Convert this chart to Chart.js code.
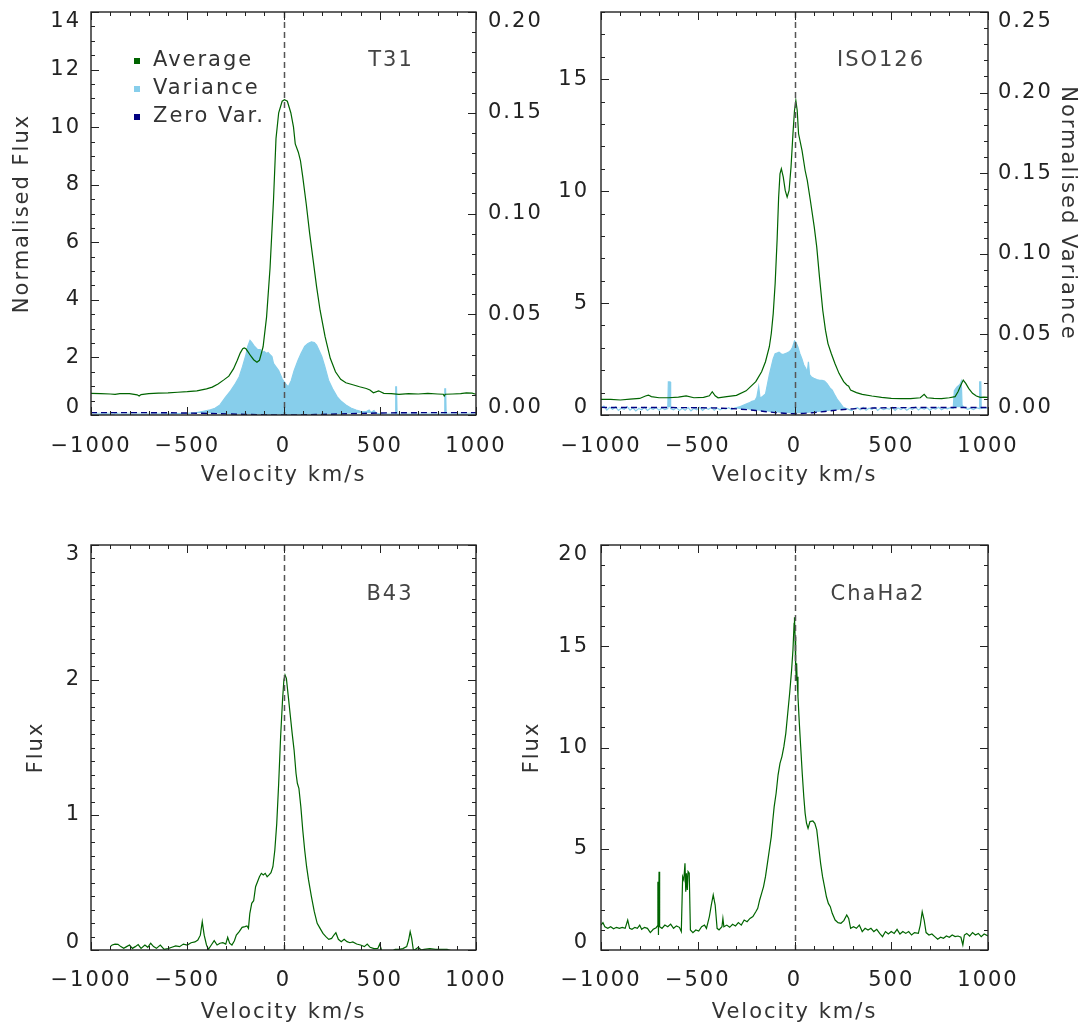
<!DOCTYPE html>
<html>
<head>
<meta charset="utf-8">
<script src="https://cdn.jsdelivr.net/npm/chart.js@4.4.0/dist/chart.umd.min.js"></script>
<style>
html, body { margin: 0; padding: 0; background: #fff; }
#wrap { position: relative; width: 1090px; height: 1028px; background: #fff; overflow: hidden; }
canvas { position: absolute; }
</style>
</head>
<body>
<div id="wrap">
  <canvas id="c1" width="545" height="500" style="left:0px;top:0px"></canvas>
  <canvas id="c2" width="590" height="500" style="left:500px;top:0px"></canvas>
  <canvas id="c3" width="545" height="498" style="left:0px;top:530px"></canvas>
  <canvas id="c4" width="590" height="498" style="left:500px;top:530px"></canvas>
</div>
<script>
// ---- T31 ----
var t31Vel = [-1000,-950,-900,-875,-850,-800,-760,-750,-740,-700,
  -650,-600,-550,-500,-450,-400,-370,-340,-310,-284,
  -260,-240,-225,-212,-204,-195,-185,-170,-155,-138,
  -125,-106,-88,-70,-52,-39,-25,-7,5,20,
  38,52,61,77,88,100,118,136,154,172,
  190,216,243,270,297,324,360,395,430,449,
  467,494,521,560,600,650,700,750,800,830,
  835,840,880,920,950,980,1000];
var t31Avg = [0.75,0.74,0.73,0.72,0.74,0.74,0.70,0.66,0.71,0.74,
  0.76,0.77,0.79,0.81,0.84,0.91,0.97,1.08,1.22,1.35,
  1.6,1.9,2.15,2.3,2.33,2.3,2.2,2.05,1.92,1.83,
  1.9,2.37,3.4,5.1,7.46,9.6,10.5,10.9,10.95,10.9,
  10.5,10.0,9.42,9.13,8.84,8.27,7.34,6.3,5.38,4.45,
  3.64,2.72,1.97,1.5,1.24,1.12,1.05,0.98,0.92,0.87,
  0.77,0.84,0.75,0.74,0.72,0.74,0.73,0.75,0.73,0.72,
  0.66,0.72,0.73,0.74,0.77,0.76,0.72];
var t31VarVel = [-1000,-930,-880,-870,-860,-800,-700,-600,-500,-450,
  -410,-380,-356,-330,-302,-275,-249,-230,-213,-195,
  -186,-174,-165,-150,-135,-120,-110,-100,-88,-80,
  -70,-60,-52,-40,-25,-7,10,25,40,55,
  75,91,110,127,145,160,172,185,199,215,
  234,255,279,300,324,350,377,400,431,445,
  455,470,480,500,550,580,583,587,590,650,
  700,800,835,838,842,845,900,1000];
var t31Var = [0.0004,0.0006,0.0004,0.0012,0.0005,0.0004,0.0005,0.0006,0.0008,0.0012,
  0.002,0.0026,0.0033,0.005,0.0087,0.012,0.0157,0.019,0.024,0.030,
  0.034,0.037,0.036,0.034,0.0325,0.0325,0.031,0.0315,0.0305,0.031,
  0.030,0.029,0.0256,0.024,0.022,0.018,0.0155,0.014,0.017,0.022,
  0.027,0.0305,0.034,0.0355,0.0363,0.036,0.0347,0.032,0.029,0.024,
  0.0173,0.013,0.009,0.0068,0.005,0.0035,0.0025,0.0018,0.0017,0.0025,
  0.0012,0.0022,0.001,0.0006,0.0005,0.0005,0.014,0.014,0.0005,0.0004,
  0.0005,0.0004,0.0005,0.013,0.013,0.0005,0.0004,0.0004];
var t31ZeroVel = [-1000,-600,-400,-200,0,200,400,600,1000];
var t31Zero = [0.0012,0.0011,0.0008,0.0003,0.0,0.0003,0.0008,0.0011,0.0012];

// ---- ISO126 ----
var isoVel = [-1000,-950,-900,-850,-800,-770,-755,-740,-700,-650,
  -600,-560,-520,-470,-440,-425,-410,-395,-350,-300,
  -250,-200,-170,-150,-130,-120,-110,-100,-90,-82,
  -75,-68,-58,-48,-38,-28,-18,-8,0,7,
  14,21,39,55,66,82,102,115,129,146,
  160,173,190,209,230,254,270,280,290,320,
  350,400,450,500,550,600,650,670,685,720,
  760,800,830,845,860,872,885,900,920,940,
  960,980,1000];
var isoAvg = [0.70,0.70,0.67,0.71,0.74,0.85,0.89,0.82,0.77,0.77,
  0.80,0.85,0.77,0.79,0.86,1.04,0.86,0.77,0.82,0.88,
  1.08,1.49,1.93,2.38,3.05,3.64,4.53,5.87,7.80,9.73,
  10.77,11.0,10.62,10.03,9.73,10.03,11.07,12.56,13.6,14.04,
  13.6,12.56,11.81,10.92,10.48,9.58,8.40,7.5,6.17,4.68,
  3.79,3.19,2.75,2.30,1.86,1.49,1.34,1.29,1.11,1.0,
  0.92,0.85,0.79,0.74,0.73,0.73,0.77,0.92,0.77,0.74,
  0.73,0.77,0.82,1.04,1.34,1.56,1.41,1.19,0.97,0.85,
  0.79,0.80,0.79];
var isoVarVel = [-1000,-985,-970,-955,-940,-925,-910,-895,-880,-865,
  -850,-835,-820,-805,-790,-775,-760,-745,-730,-715,
  -700,-685,-670,-655,-652,-643,-640,-625,-610,-595,
  -580,-565,-550,-535,-520,-505,-490,-475,-460,-445,
  -430,-415,-400,-385,-370,-355,-340,-325,-310,-295,
  -280,-265,-250,-235,-220,-205,-195,-185,-178,-165,
  -150,-140,-130,-120,-110,-100,-90,-80,-70,-60,
  -50,-40,-30,-20,-10,0,8,18,28,38,
  48,58,66,72,78,88,100,115,130,142,
  155,168,182,195,210,222,235,250,265,280,
  295,310,325,340,355,370,385,400,415,430,
  445,460,475,490,505,520,535,550,565,580,
  595,610,625,640,655,670,685,700,715,730,
  745,760,775,790,805,820,826,840,855,862,
  866,880,895,910,925,940,955,957,963,965,
  980,1000];
var isoVar = [0.0045,0.0055,0.003,0.0048,0.0035,0.005,0.0028,0.0042,0.0036,0.0052,
  0.003,0.0045,0.0025,0.004,0.0032,0.0048,0.0028,0.0042,0.0035,0.0046,
  0.003,0.0044,0.0033,0.004,0.0205,0.0205,0.004,0.0032,0.0045,0.0028,
  0.0042,0.003,0.0046,0.0026,0.0041,0.0033,0.0048,0.0029,0.0043,0.0035,
  0.0047,0.003,0.0044,0.0032,0.0041,0.0036,0.0046,0.0034,0.0043,0.0048,
  0.0052,0.006,0.0068,0.0075,0.0085,0.009,0.011,0.0175,0.0105,0.0115,
  0.013,0.019,0.025,0.030,0.035,0.038,0.0385,0.039,0.038,0.0375,
  0.038,0.0385,0.039,0.040,0.042,0.046,0.045,0.042,0.038,0.035,
  0.031,0.029,0.0265,0.033,0.025,0.0235,0.0228,0.022,0.0215,0.0215,
  0.021,0.0195,0.017,0.0155,0.012,0.0095,0.0075,0.005,0.0042,0.0035,
  0.0028,0.004,0.0045,0.0032,0.0048,0.003,0.0042,0.0035,0.0047,0.0028,
  0.0044,0.0033,0.0041,0.0036,0.0048,0.0029,0.0043,0.0034,0.0046,0.003,
  0.0042,0.0035,0.0049,0.0031,0.0044,0.0036,0.0045,0.003,0.0043,0.0037,
  0.0048,0.0032,0.0044,0.0038,0.0046,0.004,0.015,0.0175,0.019,0.021,
  0.006,0.0045,0.0035,0.0042,0.0033,0.0045,0.004,0.0205,0.0205,0.004,
  0.0045,0.0042];
var isoZeroVel = [-1000,-600,-400,-300,-200,-100,0,100,200,300,400,600,1000];
var isoZero = [0.0047,0.0046,0.0043,0.0038,0.0028,0.0015,0.0008,0.0015,0.0028,0.0038,0.0043,0.0046,0.0047];

// ---- B43 ----
var b43Vel = [-900,-890,-875,-860,-845,-830,-815,-800,-785,-770,
  -755,-740,-720,-705,-690,-675,-660,-640,-620,-600,
  -580,-560,-540,-520,-500,-480,-460,-445,-432,-422,
  -412,-400,-390,-375,-360,-345,-330,-315,-300,-290,
  -280,-268,-255,-245,-230,-215,-200,-190,-182,-175,
  -165,-155,-145,-135,-125,-115,-105,-95,-85,-75,
  -65,-55,-45,-35,-25,-15,-5,2,8,15,
  25,35,45,55,65,72,80,90,100,110,
  120,130,145,160,175,190,205,220,235,250,
  262,272,285,300,315,330,345,360,380,400,
  420,435,450,470,490,500,510,530,560,580,
  600,620,640,650,658,666,675,690,700,715,
  730,760,790,820,850,870];
var b43Flux = [0.025,0.037,0.044,0.042,0.025,0.012,0.025,0.037,0.012,0.025,
  0.04,0.012,0.037,0.02,0.05,0.025,0.012,0.037,0.005,0.01,
  0.02,0.03,0.025,0.044,0.037,0.054,0.06,0.074,0.11,0.21,
  0.11,0.037,0.005,0.037,0.069,0.037,0.05,0.054,0.044,0.094,
  0.05,0.037,0.069,0.11,0.136,0.168,0.173,0.178,0.16,0.27,
  0.346,0.365,0.469,0.506,0.543,0.568,0.556,0.568,0.543,0.556,
  0.573,0.617,0.741,0.938,1.235,1.58,1.852,2.0,2.037,2.012,
  1.877,1.741,1.605,1.481,1.309,1.235,1.198,1.062,0.889,0.741,
  0.617,0.519,0.395,0.284,0.198,0.16,0.123,0.099,0.079,0.086,
  0.111,0.128,0.079,0.062,0.079,0.062,0.054,0.06,0.044,0.037,
  0.025,0.044,0.02,0.01,0.012,0.044,-0.005,-0.02,-0.012,0.005,
  0.005,0.01,0.025,0.074,0.136,0.086,-0.005,0.01,0.02,0,
  0.005,0.01,0.005,0.005,0.005,-0.005];

// ---- ChaHa2 ----
var chaVel = [-1000,-990,-980,-965,-950,-935,-920,-905,-890,-875,
  -862,-852,-840,-825,-812,-800,-790,-775,-760,-745,
  -730,-715,-708,-706,-703,-700,-697,-685,-670,-655,
  -640,-625,-610,-595,-585,-578,-572,-566,-562,-558,
  -554,-550,-544,-538,-525,-510,-495,-480,-465,-455,
  -440,-430,-420,-410,-400,-390,-375,-370,-365,-350,
  -335,-320,-305,-290,-275,-260,-245,-230,-215,-200,
  -190,-180,-170,-160,-150,-140,-130,-120,-112,-105,
  -95,-85,-75,-65,-55,-45,-35,-25,-15,-8,
  -2,0,3,5,7,9,11,13,18,25,
  32,40,48,55,62,70,80,95,105,115,
  125,135,145,155,165,175,185,195,210,225,
  240,255,270,280,290,305,320,335,350,365,
  380,395,410,425,440,455,470,485,500,515,
  530,545,560,575,590,605,620,640,650,660,
  670,680,695,710,725,740,755,770,785,800,
  815,830,845,860,870,878,890,905,920,935,
  950,965,980,1000];
var chaFlux = [1.23,1.35,1.15,1.07,1.15,1.05,1.12,1.07,1.12,1.07,
  1.48,1.07,1.02,1.12,1.07,1.23,1.02,1.12,1.07,0.86,
  1.02,1.10,1.19,3.37,0.74,3.87,1.15,1.07,1.23,1.15,
  1.28,1.07,1.19,1.12,0.91,3.62,3.46,4.28,2.88,3.79,
  2.96,3.87,3.79,0.99,0.86,0.99,0.94,1.15,1.23,1.07,
  1.65,2.22,2.72,2.22,1.07,0.99,1.15,1.56,1.15,1.23,
  1.12,1.27,1.19,1.35,1.23,1.48,1.40,1.56,1.65,1.89,
  2.06,2.47,2.80,3.13,3.62,4.28,4.94,5.60,6.42,7.08,
  7.74,8.64,9.22,9.55,10.04,10.70,11.69,12.68,13.83,14.81,
  16.13,16.43,15.47,13.83,14.16,13.33,14.16,13.50,12.51,11.19,
  10.04,8.72,7.57,6.75,6.26,6.01,6.34,6.37,6.26,5.93,
  5.10,4.28,3.62,3.13,2.63,2.30,2.14,1.81,1.48,1.35,
  1.32,1.45,1.73,1.56,1.07,1.15,1.07,1.23,0.91,1.07,
  0.99,1.07,0.91,1.02,0.82,0.66,0.91,0.79,0.91,0.82,
  1.02,0.79,0.91,0.82,0.91,0.74,0.86,0.82,1.23,1.89,
  1.48,0.86,0.74,0.79,0.66,0.53,0.63,0.58,0.69,0.63,
  0.74,0.66,0.69,0.63,0.25,0.74,0.82,0.69,0.86,0.74,
  0.82,0.66,0.79,0.69];

var legendNames = ['Average', 'Variance', 'Zero Var.'];

var GREEN = '#006400', SKY = '#87ceeb', NAVY = '#000080';
var FONT = 'DejaVu Sans';

Chart.defaults.font.family = FONT;
Chart.defaults.font.size = 21;
Chart.defaults.color = '#222';

function pts(xs, ys) {
  return xs.map(function(x, i) { return { x: x, y: ys[i] }; });
}
function vel(v) { return v < 0 ? '\u2212' + Math.abs(v) : String(v); }
function steps(min, max, step) {
  var out = [];
  for (var i = Math.ceil(min / step - 1e-6); i * step <= max + step * 1e-6; i++) out.push(i * step);
  return out;
}
function isMajor(v, major) {
  var r = v / major;
  return Math.abs(r - Math.round(r)) < 1e-6;
}
function noPad(s) {
  s.paddingTop = 0; s.paddingBottom = 0; s.paddingLeft = 0; s.paddingRight = 0;
}

// IDL style frame: inward ticks on all sides, dashed line at v=0, labels
var idlFrame = {
  id: 'idlFrame',
  beforeUpdate: function(chart) { chart.ctx.letterSpacing = '2px'; },
  beforeDraw: function(chart) {
    chart.ctx.letterSpacing = '2px';
    var a = chart.chartArea;
    ['y', 'y2'].forEach(function(id) {
      var s = chart.scales[id];
      if (!s) return;
      s.getLabelItems().forEach(function(it) {
        if (it._moved) return;
        var t = it.options.translation;
        if (Math.abs(t[1] - a.bottom) < 1) t[1] -= 7;
        else if (Math.abs(t[1] - a.top) < 1) t[1] += 10;
        it._moved = true;
      });
    });
  },
  afterDatasetsDraw: function(chart) {
    var ctx = chart.ctx, a = chart.chartArea;
    var x0 = Math.round(chart.scales.x.getPixelForValue(0)) + 0.5;
    ctx.save();
    ctx.strokeStyle = '#555';
    ctx.lineWidth = 1.5;
    ctx.setLineDash([6, 4]);
    ctx.beginPath();
    ctx.moveTo(x0, a.top);
    ctx.lineTo(x0, a.bottom);
    ctx.stroke();
    ctx.restore();
  },
  afterDraw: function(chart, args, o) {
    var ctx = chart.ctx, a = chart.chartArea;
    var xs = chart.scales.x, ys = chart.scales.y, rs = chart.scales.y2 || ys;
    ctx.save();
    ctx.letterSpacing = '2px';
    ctx.strokeStyle = '#222';
    ctx.lineWidth = 1;
    ctx.beginPath();
    steps(-1000, 1000, 100).forEach(function(v) {
      var len = isMajor(v, 500) ? 8 : 4;
      var px = Math.round(xs.getPixelForValue(v)) + 0.5;
      ctx.moveTo(px, a.bottom); ctx.lineTo(px, a.bottom - len);
      ctx.moveTo(px, a.top); ctx.lineTo(px, a.top + len);
    });
    steps(ys.min, ys.max, o.yMinor).forEach(function(v) {
      var len = isMajor(v, o.yMajor) ? 8 : 4;
      var py = Math.round(ys.getPixelForValue(v)) + 0.5;
      ctx.moveTo(a.left, py); ctx.lineTo(a.left + len, py);
    });
    steps(rs.min, rs.max, o.rMinor).forEach(function(v) {
      var len = isMajor(v, o.rMajor) ? 8 : 4;
      var py = Math.round(rs.getPixelForValue(v)) + 0.5;
      ctx.moveTo(a.right, py); ctx.lineTo(a.right - len, py);
    });
    ctx.stroke();
    ctx.lineWidth = 1.4;
    ctx.strokeRect(a.left, a.top, a.right - a.left, a.bottom - a.top);

    ctx.font = '21px "' + FONT + '"';
    ctx.fillStyle = '#444';
    ctx.textAlign = 'center';
    ctx.textBaseline = 'middle';
    ctx.fillText(o.name, o.nameX, o.nameY);

    if (o.legend) {
      var cols = [GREEN, SKY, NAVY];
      ctx.textAlign = 'left';
      legendNames.forEach(function(n, i) {
        var yy = 61 + i * 28;
        ctx.fillStyle = cols[i];
        ctx.fillRect(134, yy - 3, 6, 6);
        ctx.fillStyle = '#333';
        ctx.fillText(n, 153, yy);
      });
    }
    ctx.restore();
  }
};

function xAxis(h, bottom, tickPad, titlePad) {
  return {
    type: 'linear', min: -1000, max: 1000,
    grid: { display: false, drawTicks: false }, border: { display: false },
    ticks: { stepSize: 500, padding: tickPad, autoSkip: false, maxRotation: 0, includeBounds: false, callback: vel },
    title: { display: true, text: 'Velocity km/s', color: '#333', padding: { top: 0, bottom: titlePad } },
    afterFit: function(s) { s.height = h - bottom; noPad(s); }
  };
}
function yAxis(pos, min, max, step, width, pad, fmt, title, titlePad) {
  return {
    type: 'linear', position: pos, min: min, max: max,
    grid: { display: false, drawTicks: false }, border: { display: false },
    ticks: { stepSize: step, padding: pad, includeBounds: false, callback: fmt, font: { lineHeight: 1 } },
    title: { display: !!title, text: title || '', color: '#333', padding: { top: titlePad || 0, bottom: 0 } },
    afterFit: function(s) { s.width = width; noPad(s); }
  };
}
function intLabel(v) { return String(Math.round(v)); }
function varLabel(v) { return v.toFixed(2); }

function avgSet(xs, ys) {
  return { data: pts(xs, ys), yAxisID: 'y', borderColor: GREEN, borderWidth: 1.2,
    pointRadius: 0, fill: false, order: 1, clip: 0 };
}
function varSet(xs, ys) {
  return { data: pts(xs, ys), yAxisID: 'y2', borderColor: SKY, backgroundColor: SKY, borderWidth: 1.2,
    pointRadius: 0, fill: { target: 2, above: SKY, below: 'rgba(0,0,0,0)' }, order: 2, clip: 0 };
}
function zeroSet(xs, ys) {
  return { data: pts(xs, ys), yAxisID: 'y2', borderColor: NAVY, borderWidth: 1.4, borderDash: [6, 4],
    pointRadius: 0, fill: false, order: 0, cubicInterpolationMode: 'monotone', clip: 0 };
}

function base(datasets, scales, pad, frame) {
  return {
    type: 'line',
    data: { datasets: datasets },
    options: {
      responsive: false, animation: false, devicePixelRatio: 1,
      layout: { padding: pad },
      scales: scales,
      plugins: { legend: { display: false }, tooltip: { enabled: false }, idlFrame: frame }
    },
    plugins: [idlFrame]
  };
}

new Chart(document.getElementById('c1'), base(
  [avgSet(t31Vel, t31Avg), varSet(t31VarVel, t31Var), zeroSet(t31ZeroVel, t31Zero)],
  {
    x: xAxis(500, 415, 19, 12),
    y: yAxis('left', 0, 14, 2, 91, 10, intLabel, 'Normalised Flux', 10),
    y2: yAxis('right', 0, 0.2, 0.05, 69, 12, varLabel)
  },
  { top: 12, left: 0, right: 0, bottom: 0 },
  { name: 'T31', nameX: 391, nameY: 61, legend: true, yMajor: 2, yMinor: 0.5, rMajor: 0.05, rMinor: 0.01 }
));

new Chart(document.getElementById('c2'), base(
  [avgSet(isoVel, isoAvg), varSet(isoVarVel, isoVar), zeroSet(isoZeroVel, isoZero)],
  {
    x: xAxis(500, 415, 19, 12),
    y: yAxis('left', 0, 18, 5, 101, 12, intLabel),
    y2: yAxis('right', 0, 0.25, 0.05, 102, 10, varLabel, 'Normalised Variance', 10)
  },
  { top: 12, left: 0, right: 0, bottom: 0 },
  { name: 'ISO126', nameX: 381, nameY: 61, legend: false, yMajor: 5, yMinor: 1, rMajor: 0.05, rMinor: 0.01 }
));

new Chart(document.getElementById('c3'), base(
  [avgSet(b43Vel, b43Flux)],
  {
    x: xAxis(498, 420, 18, 3),
    y: yAxis('left', 0, 3, 1, 91, 10, intLabel, 'Flux', 24)
  },
  { top: 15, left: 0, right: 69, bottom: 0 },
  { name: 'B43', nameX: 390, nameY: 65, legend: false, yMajor: 1, yMinor: 0.1, rMajor: 1, rMinor: 0.1 }
));

new Chart(document.getElementById('c4'), base(
  [avgSet(chaVel, chaFlux)],
  {
    x: xAxis(498, 420, 18, 3),
    y: yAxis('left', 0, 20, 5, 101, 12, intLabel, 'Flux', 20)
  },
  { top: 15, left: 0, right: 102, bottom: 0 },
  { name: 'ChaHa2', nameX: 378, nameY: 65, legend: false, yMajor: 5, yMinor: 1, rMajor: 5, rMinor: 1 }
));
</script>
</body>
</html>
